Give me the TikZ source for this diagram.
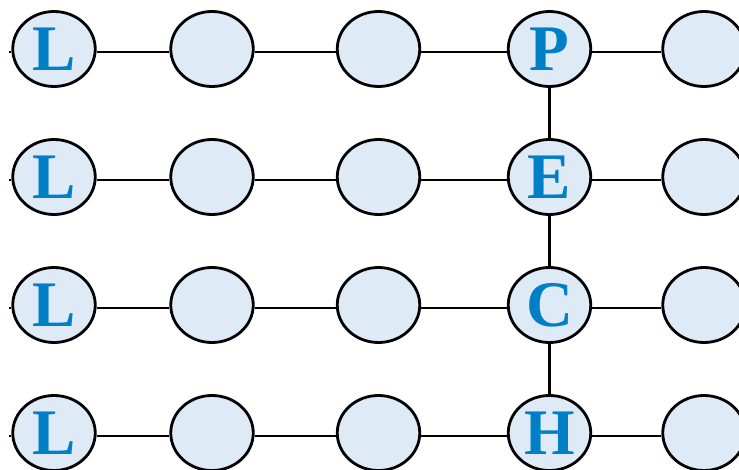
\documentclass[tikz,border=0pt]{standalone}
\usepackage{fontspec}
\newfontfamily\letterfont{Liberation Serif}
\usepackage{tikz}
\usetikzlibrary{shapes.geometric, positioning, calc}
\definecolor{cellfill}{RGB}{222,234,246}
\definecolor{letterblue}{RGB}{0,126,198}

\begin{document}
\begin{tikzpicture}[x=1pt, y=-1pt,
        cell/.style={ellipse, draw=black, fill=cellfill, line width=2.8pt, inner sep=0pt,
            minimum width=82.5pt, minimum height=75pt, text=letterblue,
            font=\letterfont\bfseries\fontsize{65}{65}\selectfont},
        link/.style={line width=2.6pt}]
        \useasboundingbox (0, 0) rectangle (739, 470);

        \foreach \r/\y/\l in {1/49/P, 2/177/E, 3/305/C, 4/433/H} {
            \coordinate (s\r) at (9, \y);
            \node[cell] (a\r) at (54, \y) {L};
            \node[cell] (b\r) at (212, \y) {};
            \node[cell] (c\r) at (378.5, \y) {};
            \node[cell] (d\r) at (549.5, \y) {\l};
            \node[cell] (e\r) at (704, \y) {};

            \draw[link] ([yshift=-3pt]s\r) -- ([yshift=-3pt]a\r.west);
            \draw[link] ([yshift=-3pt]a\r.east) -- ([yshift=-3pt]b\r.west);
            \draw[link] ([yshift=-3pt]b\r.east) -- ([yshift=-3pt]c\r.west);
            \draw[link] ([yshift=-3pt]c\r.east) -- ([yshift=-3pt]d\r.west);
            \draw[link] ([yshift=-3pt]d\r.east) -- ([yshift=-3pt]e\r.west);
        }

        \draw[link] (d1.south) -- (d2.north);
        \draw[link] (d2.south) -- (d3.north);
        \draw[link] (d3.south) -- (d4.north);
\end{tikzpicture}
\end{document}
